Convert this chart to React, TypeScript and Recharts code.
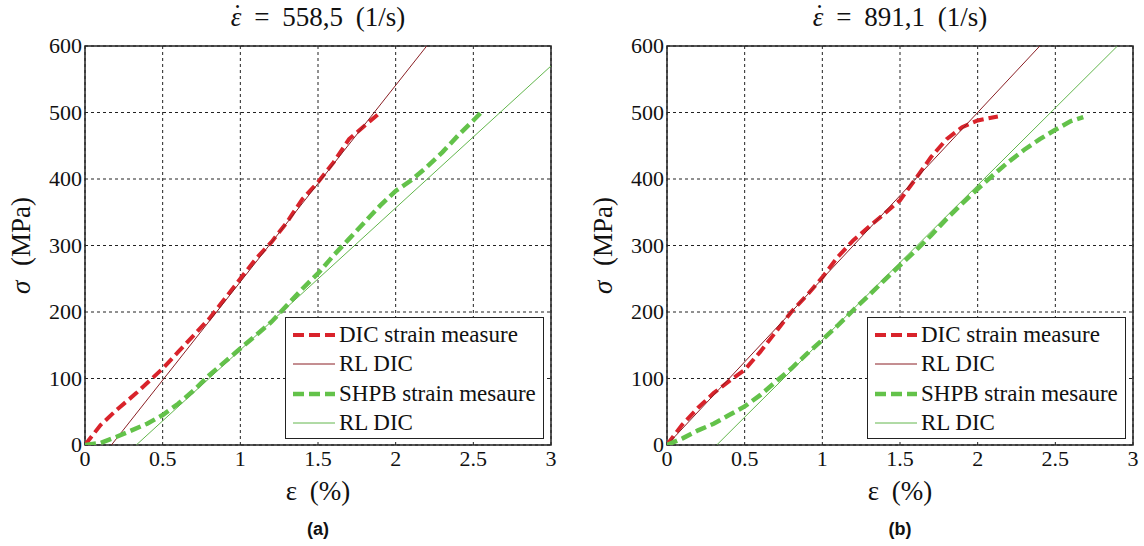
import React from "react";
import {
  LineChart,
  Line,
  XAxis,
  YAxis,
  CartesianGrid,
  ReferenceArea,
  Legend,
} from "recharts";

const SERIF = '"Liberation Serif", "Times New Roman", Tinos, Times, "DejaVu Serif", serif';
const SANS = '"Liberation Sans", Arial, sans-serif';

const xTicks = [0, 0.5, 1, 1.5, 2, 2.5, 3];
const yTicks = [0, 100, 200, 300, 400, 500, 600];
const legendLabels = ["DIC strain measure", "RL DIC", "SHPB strain mesaure", "RL DIC"];

// (a) 558,5 1/s
const dicAx = [0, 0.1, 0.2, 0.33, 0.5, 0.6, 0.7, 0.8, 0.9, 1.0, 1.1, 1.2, 1.3, 1.4, 1.5, 1.6, 1.7, 1.8, 1.9];
const dicAy = [0, 30, 52, 78, 115, 140, 165, 190, 220, 250, 280, 305, 335, 370, 395, 425, 460, 480, 500];
const rlDicAx = [0.17, 2.2];
const rlDicAy = [0, 600];
const shpbAx = [0, 0.1, 0.2, 0.3, 0.4, 0.5, 0.6, 0.7, 0.8, 0.9, 1.0, 1.1, 1.2, 1.3, 1.4, 1.5, 1.6, 1.7, 1.8, 1.9, 2.0, 2.1, 2.2, 2.3, 2.4, 2.5, 2.55];
const shpbAy = [0, 3, 12, 22, 32, 45, 62, 82, 105, 125, 145, 165, 185, 210, 235, 258, 285, 310, 335, 360, 382, 398, 418, 440, 465, 488, 500];
const rlShpbAx = [0.33, 3];
const rlShpbAy = [0, 570];

// (b) 891,1 1/s
const dicBx = [0, 0.05, 0.1, 0.2, 0.3, 0.4, 0.5, 0.6, 0.7, 0.8, 0.9, 1.0, 1.1, 1.2, 1.3, 1.4, 1.5, 1.6, 1.7, 1.8, 1.9, 2.0, 2.13];
const dicBy = [0, 16, 31, 56, 78, 96, 113, 140, 170, 200, 225, 252, 283, 308, 328, 348, 368, 400, 433, 460, 478, 488, 494];
const rlDicBx = [0, 2.4];
const rlDicBy = [0, 600];
const shpbBx = [0, 0.1, 0.2, 0.3, 0.4, 0.5, 0.6, 0.7, 0.8, 0.9, 1.0, 1.1, 1.2, 1.3, 1.4, 1.5, 1.6, 1.7, 1.8, 1.9, 2.0, 2.1, 2.2, 2.3, 2.4, 2.5, 2.6, 2.68];
const shpbBy = [0, 10, 22, 32, 45, 58, 75, 95, 115, 137, 158, 180, 203, 225, 248, 270, 292, 315, 340, 363, 385, 406, 426, 444, 460, 474, 487, 493];
const rlShpbBx = [0.32, 2.9];
const rlShpbBy = [0, 600];

const zip = (xs: number[], ys: number[]) => xs.map((x, i) => ({ x, y: ys[i] }));

const STYLES = [
  { color: "#d9232b", width: 4, dash: "11 5" },
  { color: "#8a1f24", width: 1, dash: undefined },
  { color: "#63c24a", width: 4.5, dash: "11 5" },
  { color: "#62b64c", width: 1, dash: undefined },
];

interface Series {
  name: string;
  data: { x: number; y: number }[];
}

function LegendBox({ items }: { items: Series[] }) {
  return (
    <div style={{
      width: 259, height: 122, border: "1.5px solid #222", background: "#fff",
      boxSizing: "border-box", padding: "2px 0 0 6px", fontFamily: SERIF, fontSize: 23,
      color: "#111",
    }}>
      {items.map((s, i) => (
        <div key={i} style={{ display: "flex", alignItems: "center", height: 29.5, whiteSpace: "nowrap" }}>
          <svg width={44} height={10} style={{ marginRight: 3 }}>
            <line x1={1} y1={5} x2={43} y2={5} stroke={STYLES[i].color}
              strokeWidth={STYLES[i].width} strokeDasharray={STYLES[i].dash} />
          </svg>
          <span>{s.name}</span>
        </div>
      ))}
    </div>
  );
}

function XTick({ x, y, payload }: any) {
  return (
    <text x={x} y={y + 17} textAnchor="middle" fill="#111" style={{ fontFamily: SERIF, fontSize: 22 }}>
      {payload.value}
    </text>
  );
}

function YTick({ x, y, payload }: any) {
  return (
    <text x={x} y={y + 7} textAnchor="end" fill="#111" style={{ fontFamily: SERIF, fontSize: 22 }}>
      {payload.value}
    </text>
  );
}

function Panel({ left, rate, tag, series }: {
  left: number; rate: string; tag: string; series: Series[];
}) {
  const W = 572, H = 546;
  const plotL = 92, plotR = 558, plotT = 46, plotB = 445;
  const cx = (plotL + plotR) / 2;
  return (
    <div style={{ position: "absolute", left, top: 0, width: W, height: H }}>
      <LineChart
        width={W}
        height={H}
        margin={{ top: plotT, left: plotL - 60, right: W - plotR, bottom: H - plotB - 30 }}
      >
        <CartesianGrid stroke="#222" strokeDasharray="3 3" />
        <XAxis
          dataKey="x" type="number" domain={[0, 3]} ticks={xTicks} allowDataOverflow
          height={30} tick={<XTick />} tickLine={false} axisLine={false} tickSize={0} tickMargin={4}
        />
        <YAxis
          type="number" domain={[0, 600]} ticks={yTicks} allowDataOverflow
          width={60} tick={<YTick />} tickLine={false} axisLine={false} tickSize={0} tickMargin={3}
        />
        <ReferenceArea x1={0} x2={3} y1={0} y2={600} fill="none" stroke="#222" strokeWidth={1.5} />
        {series.map((s, i) => (
          <Line
            key={i}
            data={s.data}
            dataKey="y"
            name={s.name}
            type="linear"
            stroke={STYLES[i].color}
            strokeWidth={STYLES[i].width}
            strokeDasharray={STYLES[i].dash}
            dot={false}
            activeDot={false}
            isAnimationActive={false}
          />
        ))}
        <Legend
          layout="vertical" align="center" verticalAlign="middle"
          wrapperStyle={{ left: plotR - 266, top: 317, width: 259, height: 122 }}
          content={() => <LegendBox items={series} />}
        />
      </LineChart>
      <div style={{
        position: "absolute", left: cx - 150, width: 300, top: 2, textAlign: "center",
        fontFamily: SERIF, fontSize: 27, wordSpacing: 6, color: "#111", whiteSpace: "nowrap",
      }}>
        <span style={{ position: "relative", fontStyle: "italic" }}>
          ε
          <span style={{ position: "absolute", left: "50%", top: "-0.1em", transform: "translateX(-35%)", fontStyle: "normal" }}>˙</span>
        </span>
        {" = "}{rate}{" (1/s)"}
      </div>
      <div style={{
        position: "absolute", left: plotL - 64 - 70, top: (plotT + plotB) / 2 - 16, width: 140,
        textAlign: "center", transform: "rotate(-90deg)", fontFamily: SERIF, fontSize: 27,
        wordSpacing: 8, color: "#111", whiteSpace: "nowrap",
      }}><i>σ</i> (MPa)</div>
      <div style={{
        position: "absolute", left: cx - 60, width: 120, top: 476, textAlign: "center",
        fontFamily: SERIF, fontSize: 27, wordSpacing: 6, color: "#111",
      }}>ε (%)</div>
      <div style={{
        position: "absolute", left: cx - 30, width: 60, top: 519, textAlign: "center",
        fontFamily: SANS, fontSize: 18, fontWeight: "bold", color: "#111",
      }}>{tag}</div>
    </div>
  );
}

export default function App() {
  const seriesA: Series[] = [
    { name: legendLabels[0], data: zip(dicAx, dicAy) },
    { name: legendLabels[1], data: zip(rlDicAx, rlDicAy) },
    { name: legendLabels[2], data: zip(shpbAx, shpbAy) },
    { name: legendLabels[3], data: zip(rlShpbAx, rlShpbAy) },
  ];
  const seriesB: Series[] = [
    { name: legendLabels[0], data: zip(dicBx, dicBy) },
    { name: legendLabels[1], data: zip(rlDicBx, rlDicBy) },
    { name: legendLabels[2], data: zip(shpbBx, shpbBy) },
    { name: legendLabels[3], data: zip(rlShpbBx, rlShpbBy) },
  ];
  return (
    <div style={{ position: "absolute", left: 0, top: 0, width: 1144, height: 546, background: "#fff", overflow: "hidden" }}>
      <Panel left={-7} rate="558,5" tag="(a)" series={seriesA} />
      <Panel left={575} rate="891,1" tag="(b)" series={seriesB} />
    </div>
  );
}
